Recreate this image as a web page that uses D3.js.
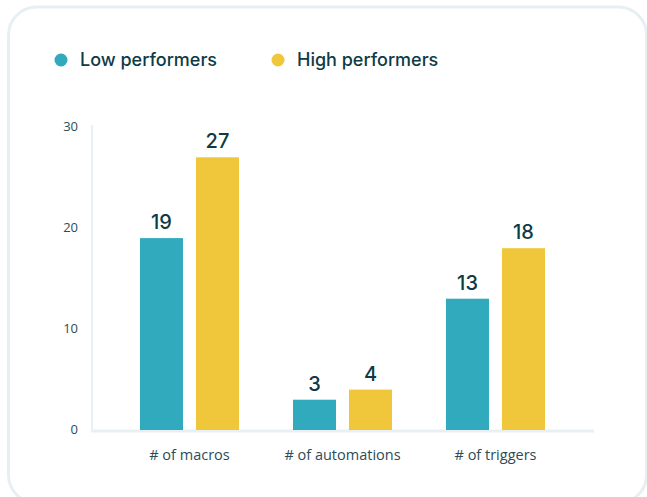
<!DOCTYPE html>
<html>
<head>
<meta charset="utf-8">
<script src="https://cdn.jsdelivr.net/npm/d3@7"></script>
<style>
  body { margin: 0; background: #fff; }
  svg { display: block; }
</style>
</head>
<body>
<svg width="647" height="497"></svg>
<script>
var categories = ["# of macros", "# of automations", "# of triggers"];
var seriesNames = ["Low performers", "High performers"];
var lowValues = [19, 3, 13];
var highValues = [27, 4, 18];
var yTicks = [0, 10, 20, 30];

var colors = ["#31aabd", "#f0c73a"];
var darkText = "#0e3b46";

var svg = d3.select("svg"),
    width = +svg.attr("width"),
    height = +svg.attr("height");

// card outline
svg.append("rect")
    .attr("x", 8.5)
    .attr("y", 7)
    .attr("width", 638)
    .attr("height", 496)
    .attr("rx", 28)
    .attr("fill", "#fff")
    .attr("stroke", "#e7eff3")
    .attr("stroke-width", 3);

var data = categories.map(function(c, i) {
  return { cat: c, values: [lowValues[i], highValues[i]] };
});

var y = d3.scaleLinear()
    .domain([0, 30])
    .range([430, 127]);

var x0 = d3.scaleBand()
    .domain(categories)
    .range([113, 572])
    .paddingInner(0.353)
    .paddingOuter(0.1765);

var x1 = d3.scaleBand()
    .domain([0, 1])
    .range([0, x0.bandwidth()])
    .paddingInner(0.232);

// y axis
svg.append("line")
    .attr("x1", 92).attr("x2", 92)
    .attr("y1", 125).attr("y2", 431)
    .attr("stroke", "#e8f0f4")
    .attr("stroke-width", 2);

svg.append("g").selectAll("text")
    .data(yTicks)
  .enter().append("text")
    .attr("x", 78)
    .attr("y", function(d) { return y(d) + 4; })
    .attr("text-anchor", "end")
    .attr("font-family", "'Open Sans', sans-serif")
    .attr("font-size", 13)
    .attr("fill", "#2b4c57")
    .text(function(d) { return d; });

// x axis
svg.append("line")
    .attr("x1", 91).attr("x2", 594)
    .attr("y1", 431).attr("y2", 431)
    .attr("stroke", "#e8f0f4")
    .attr("stroke-width", 3);

var groups = svg.append("g")
  .selectAll("g")
  .data(data)
  .enter().append("g")
    .attr("transform", function(d) { return "translate(" + x0(d.cat) + ",0)"; });

groups.selectAll("rect")
    .data(function(d) { return d.values; })
  .enter().append("rect")
    .attr("x", function(d, i) { return x1(i); })
    .attr("y", function(d) { return y(d); })
    .attr("width", x1.bandwidth())
    .attr("height", function(d) { return y(0) - y(d); })
    .attr("fill", function(d, i) { return colors[i]; });

groups.selectAll("text.val")
    .data(function(d) { return d.values; })
  .enter().append("text")
    .attr("class", "val")
    .attr("x", function(d, i) { return x1(i) + x1.bandwidth() / 2; })
    .attr("y", function(d) { return y(d) - 9; })
    .attr("text-anchor", "middle")
    .attr("font-family", "Inter, sans-serif")
    .attr("font-size", 20)
    .attr("font-weight", 500)
    .attr("fill", darkText)
    .text(function(d) { return d; });

groups.append("text")
    .attr("x", x0.bandwidth() / 2)
    .attr("y", 460)
    .attr("text-anchor", "middle")
    .attr("font-family", "'Open Sans', sans-serif")
    .attr("font-size", 14.5)
    .attr("fill", "#2b4c57")
    .text(function(d) { return d.cat; });

// legend
var legendX = [61, 278];
var legend = svg.append("g")
  .selectAll("g")
  .data(seriesNames)
  .enter().append("g")
    .attr("transform", function(d, i) { return "translate(" + legendX[i] + ",60)"; });

legend.append("circle")
    .attr("r", 6.5)
    .attr("fill", function(d, i) { return colors[i]; });

legend.append("text")
    .attr("x", 19)
    .attr("y", 6)
    .attr("font-family", "Inter, sans-serif")
    .attr("font-size", 18)
    .attr("font-weight", 500)
    .attr("fill", darkText)
    .text(function(d) { return d; });
</script>
</body>
</html>
